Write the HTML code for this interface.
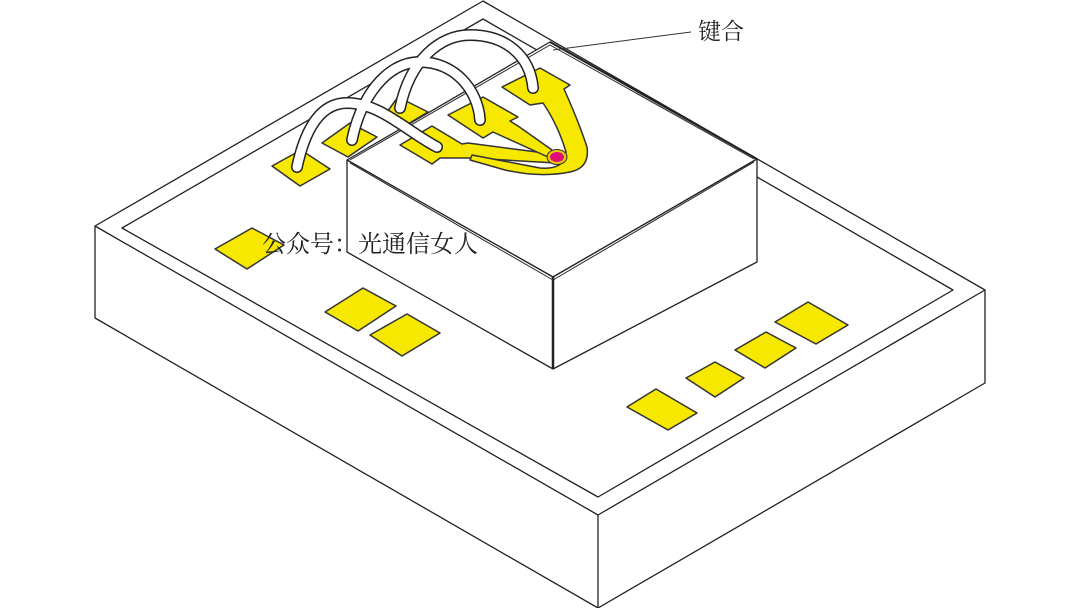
<!DOCTYPE html>
<html><head><meta charset="utf-8"><style>
html,body{margin:0;padding:0;background:#fff;width:1080px;height:608px;overflow:hidden}
svg{display:block}
text{font-family:"Liberation Serif","Noto Serif CJK SC","Noto Sans CJK SC",serif;fill:#222}
</style></head><body>
<svg width="1080" height="608" viewBox="0 0 1080 608" xmlns="http://www.w3.org/2000/svg">
<g fill="none" stroke="#222" stroke-width="1.3" stroke-linejoin="round">
<polygon points="483,1 95,226 598,515 985,290" fill="#fff"/>
<polyline points="95,226 95,318 598,608 985,383 985,290"/>
<line x1="598" y1="515" x2="598" y2="608"/>
<polygon points="483,19 122,228 598,497 953,290"/>
<polygon points="347,160 550,42 757,159 553,277" fill="#fff"/>
<polygon points="347,252 553,369 757,262 757,159 553,277 347,160" fill="#fff"/>
<line x1="553" y1="277" x2="553" y2="369" stroke-width="2.5"/>
<polyline points="350,160 550,45 754,159" stroke-width="1"/>
<polyline points="350,163 553,280 754,162" stroke-width="1"/>
<line x1="550" y1="42" x2="757" y2="159" stroke-width="2"/>
</g>
<line x1="553" y1="50" x2="691" y2="32" stroke="#333" stroke-width="1"/>
<text x="698" y="39" font-size="23">键合</text>
<g fill="#f7e800" stroke="#333" stroke-width="1.5" stroke-linejoin="round">
<polygon points="272,166 301,150 330,169 300,186"/>
<polygon points="215,249 252,228 284,245 247,269"/>
<polygon points="325,312 363,288 396,306 358,331"/>
<polygon points="370,335 407,314 440,333 402,356"/>
<polygon points="627,407 656,389 697,413 668,430"/>
<polygon points="686,378 715,362 744,378 715,397"/>
<polygon points="735,350 766,332 796,348 765,368"/>
<polygon points="775,322 808,302 848,325 816,344"/>
<polygon points="322,143 350,123 377,137 348,157"/>
<polygon points="387,112 398,97 428,112 408,124"/>
<path d="M400,145 L432,126 L462,144 L468,143 L552,154 L556,163 L470,158 L440,158 L432,164 Z"/>
<path d="M448,115 L483,97 L518,117 L510,121 L518,126 L552,150 L548,157 L493,132 L483,138 Z"/>
<path d="M502,87 L540,68 L570,85 L564,89 Q578,120 587,147 Q590,168 570,172 Q540,178 505,170 L470,160 L472,155 L540,168 Q565,170 566,152 Q558,125 543,103 L530,105 Z"/>
</g>
<ellipse cx="557" cy="157" rx="10" ry="7.5" fill="#e8c800" stroke="#333" stroke-width="1"/>
<ellipse cx="557" cy="157" rx="7" ry="5" fill="#e0107a"/>
<g fill="none" stroke-linecap="round">
<g stroke="#222" stroke-width="12">
<path d="M400,108 C410,60 440,35 470,35 C505,35 530,55 533,88"/>
<path d="M352,140 C360,100 385,62 420,62 C455,62 478,90 480,120"/>
<path d="M297,167 C305,130 320,103 347,103 C380,103 405,130 437,147"/>
</g>
<g stroke="#fff" stroke-width="9">
<path d="M400,108 C410,60 440,35 470,35 C505,35 530,55 533,88"/>
<path d="M352,140 C360,100 385,62 420,62 C455,62 478,90 480,120"/>
<path d="M297,167 C305,130 320,103 347,103 C380,103 405,130 437,147"/>
</g>
</g>
<text x="262" y="252" font-size="24">公众号：光通信女人</text>
</svg>
</body></html>
